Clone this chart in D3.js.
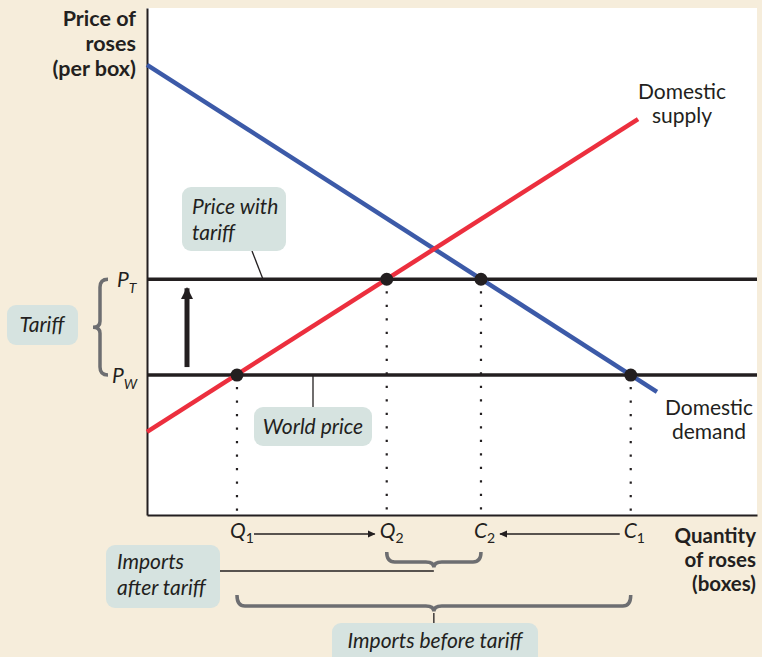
<!DOCTYPE html>
<html><head><meta charset="utf-8">
<script src="https://cdn.jsdelivr.net/npm/d3@7"></script>
<style>
html,body{margin:0;padding:0;background:#f6eddb;}
svg{display:block;}
text{font-family:Lato,"Open Sans",sans-serif;fill:#231f20;}
</style></head><body>
<script>
// ---- data (in chart units) ----
const demandPts = [[0, 88.8], [83.6, 24.3]];
const supplyPts = [[0, 16.4], [80.5, 78.1]];
const priceNames = ["P", "P"];
const priceSubs = ["W", "T"];
const priceValues = [27.6, 46.5];
const qtyNames = ["Q", "Q", "C", "C"];
const qtySubs = ["1", "2", "2", "1"];
const qtyValues = [14.75, 39.3, 54.75, 79.3];
const qtyPrice = [27.6, 46.5, 46.5, 27.6];

const W = 762, H = 657;
const svg = d3.select("body").append("svg").attr("width", W).attr("height", H);
svg.append("rect").attr("width", W).attr("height", H).attr("fill", "#f6eddb");

const x = d3.scaleLinear().domain([0, 100]).range([147, 757]);
const y = d3.scaleLinear().domain([0, 100]).range([515, 8]);

// plot background
svg.append("rect").attr("x", x(0)).attr("y", y(100)).attr("width", x(100) - x(0)).attr("height", y(0) - y(100)).attr("fill", "#fff");

// axes
const xAxis = d3.axisBottom(x).tickValues([]).tickSizeOuter(0);
const yAxis = d3.axisLeft(y).tickValues([]).tickSizeOuter(0);
svg.append("g").attr("transform", `translate(0,${y(0)})`).call(xAxis)
  .select(".domain").attr("stroke", "#231f20").attr("stroke-width", 2);
svg.append("g").attr("transform", `translate(${x(0)},0)`).call(yAxis)
  .select(".domain").attr("stroke", "#231f20").attr("stroke-width", 2);

// dotted drop lines
svg.append("g").selectAll("line").data(qtyValues).join("line")
  .attr("x1", d => x(d)).attr("x2", d => x(d))
  .attr("y1", (d, i) => y(qtyPrice[i]) + 12).attr("y2", y(0) - 3)
  .attr("stroke", "#231f20").attr("stroke-width", 2.2)
  .attr("stroke-dasharray", "2.2,11.3").attr("stroke-linecap", "butt");

// price lines
svg.append("g").selectAll("line").data(priceValues).join("line")
  .attr("x1", x(0)).attr("x2", x(100))
  .attr("y1", d => y(d)).attr("y2", d => y(d))
  .attr("stroke", "#231f20").attr("stroke-width", 3.5);

const line = d3.line().x(d => x(d[0])).y(d => y(d[1]));
svg.append("path").attr("d", line(demandPts)).attr("stroke", "#3c5aa8").attr("stroke-width", 4.5).attr("fill", "none");
svg.append("path").attr("d", line(supplyPts)).attr("stroke", "#ec2f3e").attr("stroke-width", 4.5).attr("fill", "none");

// dots
svg.append("g").selectAll("circle").data(qtyValues).join("circle")
  .attr("cx", d => x(d)).attr("cy", (d, i) => y(qtyPrice[i])).attr("r", 6.5).attr("fill", "#231f20");

// arrow up (tariff)
svg.append("defs").html(`
<marker id="ah" viewBox="0 0 10 10" refX="9" refY="5" markerWidth="8" markerHeight="8" orient="auto-start-reverse" markerUnits="userSpaceOnUse">
<path d="M0,0.5 L10,5 L0,9.5 Z" fill="#231f20"/></marker>
<marker id="big" viewBox="0 0 10 10" refX="9" refY="5" markerWidth="22" markerHeight="12" orient="auto" markerUnits="userSpaceOnUse">
<path d="M0,0 L10,5 L0,10 Z" fill="#231f20"/></marker>`);
svg.append("line").attr("x1", 187).attr("x2", 187).attr("y1", y(priceValues[0]) - 8).attr("y2", y(priceValues[1]) + 9)
  .attr("stroke", "#231f20").attr("stroke-width", 5).attr("marker-end", "url(#big)");

// axis titles
const yt = svg.append("text").attr("text-anchor", "end").attr("font-weight", "bold").attr("font-size", 21.5);
["Price of", "roses", "(per box)"].forEach((t, i) => yt.append("tspan").attr("x", 136).attr("y", 26 + i * 25).text(t));
const xt = svg.append("text").attr("text-anchor", "end").attr("font-weight", "bold").attr("font-size", 20.5);
["Quantity", "of roses", "(boxes)"].forEach((t, i) => xt.append("tspan").attr("x", 756).attr("y", 543 + i * 24).text(t));

// curve labels
const ds = svg.append("text").attr("text-anchor", "middle").attr("font-size", 21);
["Domestic", "supply"].forEach((t, i) => ds.append("tspan").attr("x", 682).attr("y", 99 + i * 24).text(t));
const dd = svg.append("text").attr("text-anchor", "middle").attr("font-size", 21);
["Domestic", "demand"].forEach((t, i) => dd.append("tspan").attr("x", 709).attr("y", 415 + i * 24).text(t));

// price labels
priceValues.forEach((v, i) => {
  const t = svg.append("text").attr("x", i === 0 ? 112 : 117).attr("y", y(v) + 8).attr("font-size", 21).attr("font-style", "italic");
  t.append("tspan").text(priceNames[i]);
  t.append("tspan").attr("dy", 6).attr("font-size", 14).text(priceSubs[i]);
});

// quantity labels
qtyValues.forEach((v, i) => {
  const t = svg.append("text").attr("x", x(v) - 7).attr("y", 538).attr("font-size", 21).attr("font-style", "italic");
  t.append("tspan").text(qtyNames[i]);
  t.append("tspan").attr("dy", 5).attr("font-style", "normal").attr("font-size", 14).text(qtySubs[i]);
});

// quantity arrows
svg.append("line").attr("x1", x(qtyValues[0]) + 17).attr("x2", x(qtyValues[1]) - 12).attr("y1", 534).attr("y2", 534)
  .attr("stroke", "#231f20").attr("stroke-width", 1.5).attr("marker-end", "url(#ah)");
svg.append("line").attr("x1", x(qtyValues[3]) - 11).attr("x2", x(qtyValues[2]) + 19).attr("y1", 534).attr("y2", 534)
  .attr("stroke", "#231f20").attr("stroke-width", 1.5).attr("marker-end", "url(#ah)");

// braces
const grey = "#6d6e71";
function hbrace(x1, x2, yTop, depth) {
  const m = (x1 + x2) / 2, r = 8;
  return `M${x1},${yTop} q0,${depth} ${r},${depth} H${m - r} q${r},0 ${r},${r * 0.7} q0,${-r * 0.7} ${r},${-r * 0.7} H${x2 - r} q${r},0 ${r},${-depth}`;
}
svg.append("path").attr("d", hbrace(x(qtyValues[1]), x(qtyValues[2]), 552, 10)).attr("fill", "none").attr("stroke", grey).attr("stroke-width", 3.5);
svg.append("path").attr("d", hbrace(x(qtyValues[0]), x(qtyValues[3]), 595, 11)).attr("fill", "none").attr("stroke", grey).attr("stroke-width", 3.5);
// vertical tariff brace
const yT = y(priceValues[1]), yW = y(priceValues[0]);
svg.append("path").attr("d", `M108,${yT} q-8,0 -8,8 V${(yT + yW) / 2 - 6} q0,6 -7,6 q7,0 7,6 V${yW - 8} q0,8 8,8`)
  .attr("fill", "none").attr("stroke", grey).attr("stroke-width", 3.5);

// callout boxes
const boxFill = "#d6e3e0";
function box(x0, y0, w, h) {
  svg.append("rect").attr("x", x0).attr("y", y0).attr("width", w).attr("height", h).attr("rx", 9).attr("fill", boxFill);
}
function itext(lines, x0, y0, anchor, lh) {
  const t = svg.append("text").attr("font-size", 21).attr("font-style", "italic").attr("text-anchor", anchor);
  lines.forEach((s, i) => t.append("tspan").attr("x", x0).attr("y", y0 + i * lh).text(s));
}
// connector lines
svg.append("line").attr("x1", 252).attr("y1", 251).attr("x2", 263).attr("y2", y(priceValues[1])).attr("stroke", "#231f20").attr("stroke-width", 1.3);
svg.append("line").attr("x1", 313).attr("y1", y(priceValues[0])).attr("x2", 313).attr("y2", 408).attr("stroke", "#231f20").attr("stroke-width", 1.3);
svg.append("line").attr("x1", 220).attr("y1", 571).attr("x2", (x(qtyValues[1]) + x(qtyValues[2])) / 2).attr("y2", 571).attr("stroke", "#231f20").attr("stroke-width", 1.3);
svg.append("line").attr("x1", (x(qtyValues[0]) + x(qtyValues[3])) / 2).attr("y1", 613).attr("x2", (x(qtyValues[0]) + x(qtyValues[3])) / 2).attr("y2", 624).attr("stroke", "#231f20").attr("stroke-width", 1.3);

box(182, 187, 104, 64); itext(["Price with", "tariff"], 192, 214, "start", 26);
box(254, 407, 118, 39); itext(["World price"], 313, 434, "middle", 0);
box(7, 305, 71, 40); itext(["Tariff"], 42, 332, "middle", 0);
box(106, 545, 114, 63); itext(["Imports", "after tariff"], 117, 569, "start", 26);
box(332, 623, 206, 45); itext(["Imports before tariff"], 435, 648, "middle", 0);
</script>
</body></html>
